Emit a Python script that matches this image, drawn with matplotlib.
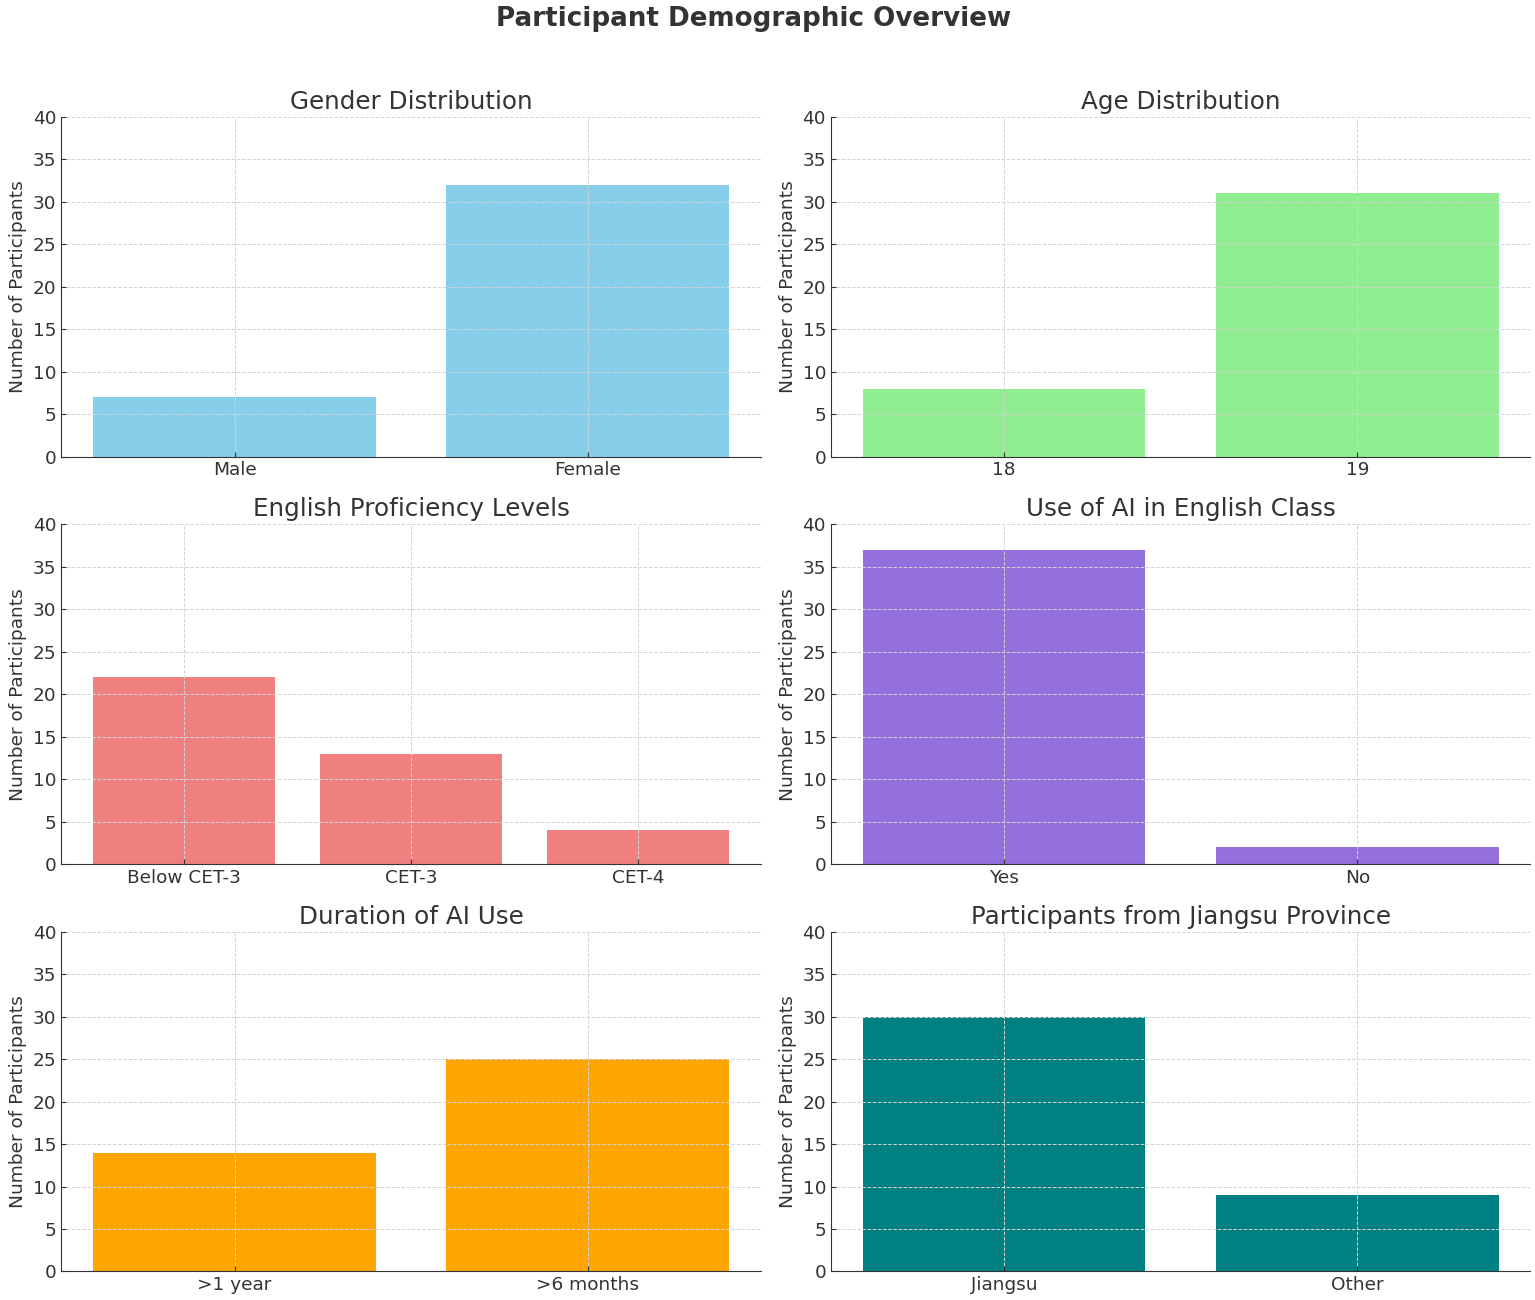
import matplotlib.pyplot as plt

gender_labels = ['Male', 'Female']
gender_counts = [7, 32]
age_labels = ['18', '19']
age_counts = [8, 31]
level_labels = ['Below CET-3', 'CET-3', 'CET-4']
level_counts = [22, 13, 4]
ai_labels = ['Yes', 'No']
ai_counts = [37, 2]
duration_labels = ['>1 year', '>6 months']
duration_counts = [14, 25]
province_labels = ['Jiangsu', 'Other']
province_counts = [30, 9]

plt.rcParams['text.color'] = '#333333'
plt.rcParams['axes.labelcolor'] = '#333333'
plt.rcParams['xtick.color'] = '#333333'
plt.rcParams['ytick.color'] = '#333333'
plt.rcParams['xtick.direction'] = 'in'
plt.rcParams['ytick.direction'] = 'in'

fig, axes = plt.subplots(3, 2, figsize=(15.35, 13), dpi=100)

panels = [
    (gender_labels, gender_counts, 'skyblue', 'Gender Distribution'),
    (age_labels, age_counts, 'lightgreen', 'Age Distribution'),
    (level_labels, level_counts, 'lightcoral', 'English Proficiency Levels'),
    (ai_labels, ai_counts, 'mediumpurple', 'Use of AI in English Class'),
    (duration_labels, duration_counts, 'orange', 'Duration of AI Use'),
    (province_labels, province_counts, 'teal', 'Participants from Jiangsu Province'),
]

for ax, (labels, counts, color, title) in zip(axes.flat, panels):
    ax.bar(labels, counts, color=color)
    ax.set_title(title, fontsize=17.7)
    ax.set_ylabel('Number of Participants', fontsize=13.3)
    ax.set_ylim(0, 40)
    ax.tick_params(labelsize=13.3)
    ax.grid(True, linestyle='--', color='#d4d4d4', linewidth=0.7)
    ax.spines['top'].set_visible(False)
    ax.spines['right'].set_visible(False)
    ax.spines['left'].set_color('#333333')
    ax.spines['bottom'].set_color('#333333')

fig.suptitle('Participant Demographic Overview', fontsize=18.8, fontweight='bold', x=0.491, y=0.995)
plt.subplots_adjust(left=0.04, right=0.997, top=0.91, bottom=0.022, hspace=0.2, wspace=0.1)

plt.savefig('out.png')
